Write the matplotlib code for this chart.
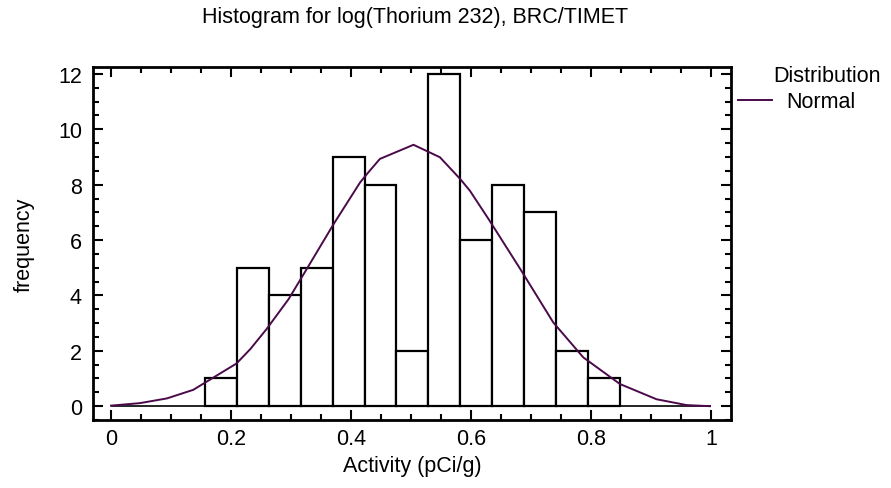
import matplotlib.pyplot as plt
from matplotlib.ticker import MultipleLocator
import numpy as np

plt.rcParams['font.family'] = ['Liberation Sans', 'DejaVu Sans']

# histogram of log(Thorium 232)
bin_lower = 0.157
bin_width = 0.0531
counts = [1, 5, 4, 5, 9, 8, 2, 12, 6, 8, 7, 2, 1]

# fitted normal curve
curve_x = [0.0, 0.048, 0.093, 0.137, 0.171, 0.209, 0.232, 0.259, 0.296, 0.326,
           0.371, 0.415, 0.429, 0.448, 0.504, 0.548, 0.582, 0.598, 0.629, 0.682,
           0.737, 0.787, 0.848, 0.909, 0.959, 0.998]
curve_y = [0.02, 0.11, 0.28, 0.59, 1.04, 1.54, 2.06, 2.78, 3.87, 4.95,
           6.58, 8.08, 8.45, 8.93, 9.44, 8.99, 8.2, 7.78, 6.76, 4.95,
           3.02, 1.76, 0.80, 0.25, 0.04, 0.0]

fs = 15.5

fig = plt.figure(figsize=(8.91, 4.89), dpi=100)
ax = fig.add_axes([0.1044, 0.139, 0.716, 0.722])

lefts = bin_lower + bin_width * np.arange(len(counts))
ax.bar(lefts, counts, width=bin_width, align='edge', facecolor='white',
       edgecolor='black', linewidth=1.6, zorder=2)
ax.hlines(0, 0, 1, color='black', linewidth=1.2, zorder=1)
line, = ax.plot(curve_x, curve_y, color='#4a0a4a', linewidth=1.4, zorder=3,
                label='Normal')

ax.set_xlim(-0.03, 1.033)
ax.set_ylim(-0.5, 12.25)
ax.xaxis.set_minor_locator(MultipleLocator(0.05))
ax.yaxis.set_major_locator(MultipleLocator(2))
ax.yaxis.set_minor_locator(MultipleLocator(0.5))
ax.set_xticks([0, 0.2, 0.4, 0.6, 0.8, 1.0])
ax.set_xticklabels(['0', '0.2', '0.4', '0.6', '0.8', '1'])
ax.tick_params(which='both', direction='in', top=True, right=True, labelsize=fs,
               width=1.5)
ax.tick_params(which='major', length=7)
ax.tick_params(which='minor', length=4)
ax.tick_params(axis='x', pad=6)
ax.tick_params(axis='y', pad=8)
for s in ax.spines.values():
    s.set_linewidth(2)

ax.set_xlabel('Activity (pCi/g)', fontsize=fs, labelpad=4)
ax.set_ylabel('frequency', fontsize=fs, labelpad=17)
fig.text(0.466, 0.965, 'Histogram for log(Thorium 232), BRC/TIMET', fontsize=fs,
         ha='center', va='center')

fig.text(773 / 891, 1 - 77 / 489, 'Distribution', fontsize=fs, ha='left', va='center')
fig.legend(handles=[line], labels=['Normal'], loc='center left',
           bbox_to_anchor=(738 / 891, 1 - 103 / 489), frameon=False,
           fontsize=fs, handlelength=1.6, handletextpad=0.65, borderaxespad=0,
           borderpad=0)

fig.savefig('out.png', dpi=100)
